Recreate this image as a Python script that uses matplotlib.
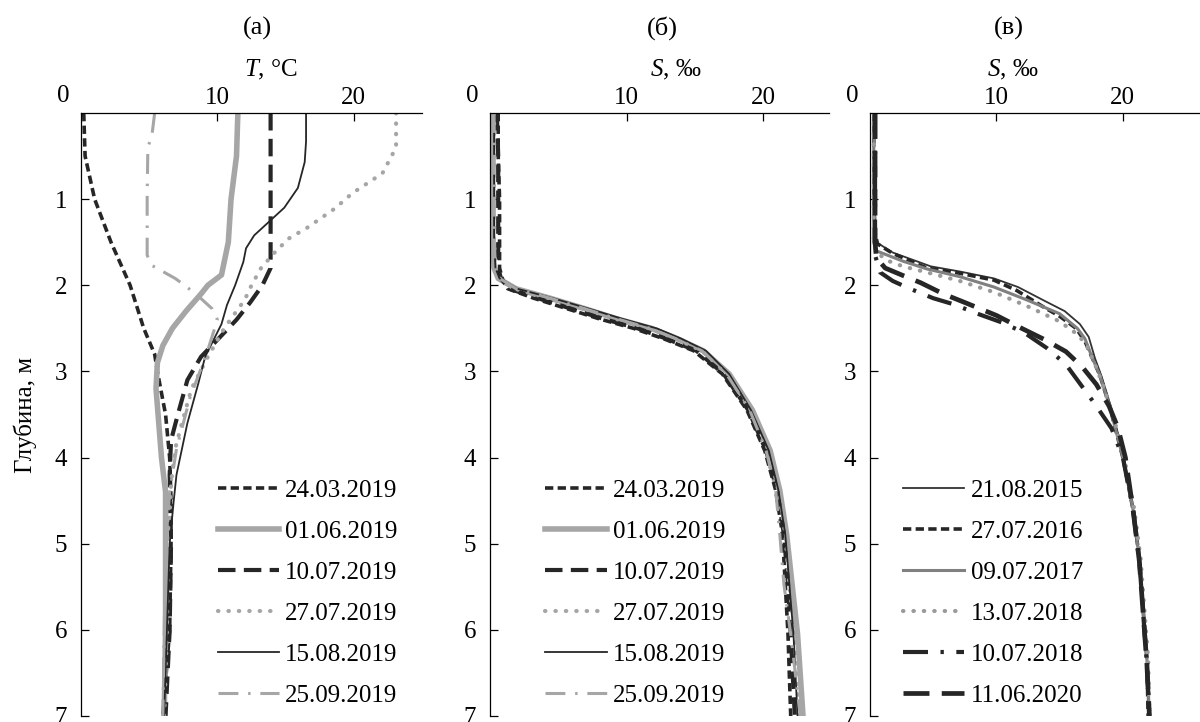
import matplotlib.pyplot as plt

plt.rcParams['font.family'] = ['Liberation Serif', 'DejaVu Serif']
plt.rcParams['mathtext.fontset'] = 'custom'
plt.rcParams['mathtext.it'] = 'Liberation Serif:italic'
plt.rcParams['mathtext.rm'] = 'Liberation Serif'

# (а) температура
a_labels = ['24.03.2019', '01.06.2019', '10.07.2019', '27.07.2019', '15.08.2019', '25.09.2019']
a_d1 = [0, 0.5, 1.0, 1.5, 2.0, 2.5, 2.8, 3.0, 3.5, 4.0, 4.5, 5.0, 6.0, 7.0]
a_t1 = [0.2, 0.3, 1.0, 2.2, 3.6, 4.6, 5.4, 5.6, 6.2, 6.5, 6.6, 6.6, 6.5, 6.0]
a_d2 = [0, 0.5, 1.0, 1.5, 1.88, 2.0, 2.1, 2.3, 2.5, 2.7, 2.9, 3.2, 3.6, 4.0, 4.4, 5.0, 6.0, 7.0]
a_t2 = [11.5, 11.4, 11.0, 10.8, 10.3, 9.3, 8.8, 7.7, 6.7, 6.0, 5.6, 5.5, 5.7, 5.9, 6.2, 6.2, 6.2, 6.1]
a_d3 = [0, 1.0, 1.8, 2.0, 2.2, 2.4, 2.6, 2.83, 3.1, 3.5, 3.8, 4.2, 5.0, 6.0, 7.0]
a_t3 = [13.9, 13.9, 13.9, 13.3, 12.4, 11.4, 10.2, 8.8, 7.8, 7.1, 6.6, 6.5, 6.6, 6.5, 6.2]
a_d4 = [0, 0.4, 0.7, 0.93, 1.11, 1.33, 1.46, 1.62, 1.8, 2.0, 2.17, 2.3, 2.5, 2.83, 3.2, 3.6, 3.9, 4.3, 5.0, 6.0, 7.0]
a_t4 = [23.1, 23.1, 22.1, 19.9, 18.6, 16.6, 15.2, 14.2, 13.2, 12.5, 12.0, 11.4, 10.5, 9.3, 8.1, 7.4, 6.9, 6.6, 6.4, 6.3, 6.1]
a_d5 = [0, 0.33, 0.57, 0.87, 1.1, 1.26, 1.42, 1.57, 1.73, 2.0, 2.23, 2.45, 2.83, 3.14, 3.6, 4.2, 4.5, 5.0, 6.0, 7.0]
a_t5 = [16.5, 16.5, 16.4, 15.9, 14.9, 13.8, 12.7, 12.1, 11.9, 11.3, 10.7, 10.3, 9.1, 8.6, 7.8, 7.0, 6.8, 6.5, 6.3, 6.1]
a_d6 = [0, 0.26, 0.4, 1.0, 1.65, 1.77, 1.92, 2.0, 2.14, 2.27, 2.4, 2.8, 3.3, 3.9, 4.4, 5.0, 6.0, 7.0]
a_t6 = [5.4, 5.2, 4.9, 4.85, 4.85, 5.2, 6.9, 7.6, 8.7, 9.6, 10.0, 9.2, 8.0, 7.0, 6.5, 6.2, 6.1, 6.0]

# (б) солёность 2019
b_depth = [0, 0.5, 1.0, 1.5, 1.8, 1.92, 2.04, 2.15, 2.27, 2.39, 2.5, 2.62, 2.76, 3.03, 3.45, 3.92, 4.38, 4.89, 5.47, 6.05, 7.0]
b_s1 = [0.6, 0.6, 0.7, 0.7, 0.7, 0.9, 1.3, 3.2, 5.6, 8.0, 10.5, 12.7, 14.9, 17.0, 18.8, 20.1, 20.9, 21.4, 21.6, 21.8, 22.0]
b_s2 = [0.2, 0.2, 0.2, 0.2, 0.3, 0.6, 1.9, 4.4, 6.9, 9.3, 11.8, 13.7, 15.6, 17.5, 19.2, 20.5, 21.2, 21.7, 22.1, 22.5, 22.9]
b_s3 = [0.5, 0.6, 0.6, 0.6, 0.6, 0.8, 1.4, 3.5, 5.9, 8.3, 10.8, 12.9, 15.1, 17.1, 18.9, 20.2, 21.0, 21.5, 21.8, 22.0, 22.3]
b_s4 = [0.3, 0.3, 0.3, 0.3, 0.4, 0.7, 1.8, 4.3, 6.8, 9.2, 11.7, 13.6, 15.5, 17.4, 19.1, 20.4, 21.1, 21.6, 21.9, 22.3, 22.6]
b_s5 = [0.3, 0.3, 0.3, 0.3, 0.4, 0.7, 2.0, 4.6, 7.2, 9.7, 12.2, 14.0, 15.8, 17.5, 19.1, 20.4, 21.1, 21.6, 21.9, 22.2, 22.5]
b_s6 = [0.3, 0.3, 0.3, 0.3, 0.4, 0.7, 1.9, 4.4, 6.9, 9.3, 11.7, 13.6, 15.5, 17.3, 19.0, 20.2, 20.9, 21.2, 21.5, 22.0, 22.7]

# (в) солёность по годам
c_labels = ['21.08.2015', '27.07.2016', '09.07.2017', '13.07.2018', '10.07.2018', '11.06.2020']
c_d1 = [0, 1.4, 1.5, 1.62, 1.7, 1.78, 1.84, 1.92, 2.02, 2.18, 2.3, 2.45, 2.6, 2.85, 3.05, 3.43, 4.0, 4.6, 5.17, 5.76, 6.34, 7.0]
c_s1 = [0.3, 0.3, 0.5, 1.8, 3.3, 4.8, 7.1, 9.8, 11.7, 13.8, 15.4, 16.6, 17.3, 17.8, 18.3, 19.1, 20.1, 20.8, 21.3, 21.6, 21.9, 22.0]
c_d2 = [0, 1.0, 1.4, 1.52, 1.63, 1.72, 1.8, 1.86, 1.94, 2.06, 2.25, 2.36, 2.5, 2.65, 2.85, 3.05, 3.43, 4.0, 4.6, 5.17, 5.76, 6.34, 7.0]
c_s2 = [0.3, 0.3, 0.4, 0.6, 1.8, 3.2, 4.5, 7.1, 9.8, 11.6, 13.7, 15.0, 16.3, 17.0, 17.6, 18.2, 19.0, 20.0, 20.8, 21.3, 21.6, 21.9, 22.0]
c_d3 = [0, 1.5, 1.6, 1.72, 1.81, 1.9, 2.02, 2.17, 2.33, 2.5, 2.62, 2.85, 3.05, 3.43, 4.0, 4.6, 5.17, 5.76, 6.34, 7.0]
c_s3 = [0.3, 0.3, 0.5, 2.6, 4.5, 7.1, 9.8, 12.4, 15.0, 16.4, 17.0, 17.6, 18.2, 19.0, 20.0, 20.8, 21.3, 21.6, 21.9, 22.1]
c_d4 = [0, 1.5, 1.62, 1.72, 1.78, 1.85, 1.95, 2.08, 2.24, 2.42, 2.58, 2.72, 2.92, 3.15, 3.5, 4.0, 4.6, 5.17, 5.76, 6.34, 7.0]
c_s4 = [0.3, 0.3, 0.5, 1.5, 2.6, 4.5, 7.1, 9.8, 12.4, 15.0, 16.5, 17.2, 17.8, 18.4, 19.2, 20.1, 20.9, 21.4, 21.7, 22.0, 22.1]
c_d5 = [0, 1.5, 1.65, 1.85, 1.95, 2.03, 2.15, 2.22, 2.33, 2.43, 2.55, 2.73, 2.92, 3.16, 3.38, 3.66, 4.0, 4.6, 5.2, 5.8, 6.4, 7.0]
c_s5 = [0.4, 0.4, 0.4, 0.8, 1.8, 3.0, 5.0, 6.6, 8.5, 10.4, 12.2, 14.0, 15.5, 16.7, 17.8, 19.1, 20.0, 20.8, 21.3, 21.6, 21.9, 22.1]
c_d6 = [0, 1.5, 1.68, 1.8, 1.88, 1.97, 2.1, 2.2, 2.35, 2.5, 2.63, 2.77, 2.95, 3.15, 3.4, 3.65, 4.0, 4.6, 5.2, 5.8, 6.4, 7.0]
c_s6 = [0.4, 0.4, 0.5, 1.2, 2.5, 4.0, 5.8, 7.5, 10.0, 12.0, 13.8, 15.5, 16.8, 17.9, 18.9, 19.6, 20.2, 20.8, 21.3, 21.6, 21.9, 22.1]

dark = '#262626'
light = '#a6a6a6'
mid = '#808080'

st_short = {'color': dark, 'linewidth': 2.6, 'linestyle': (0, (2.3, 1.2))}
st_thick = {'color': light, 'linewidth': 4.0, 'linestyle': '-'}
st_long = {'color': dark, 'linewidth': 3.0, 'linestyle': (0, (4.2, 2.0))}
st_dot = {'color': light, 'linewidth': 3.0, 'linestyle': (0, (0.1, 2.4)), 'dash_capstyle': 'round'}
st_thin = {'color': dark, 'linewidth': 1.3, 'linestyle': '-'}
st_dashdot = {'color': light, 'linewidth': 2.2, 'linestyle': (0, (6.5, 3.2, 0.8, 3.2))}

fig = plt.figure(figsize=(12, 7.22), dpi=100)
W, H = 1200, 722


def make_axes(left, right, xmax):
    ax = fig.add_axes([left / W, 1 - 716 / H, (right - left) / W, (716 - 113) / H])
    ax.set_xlim(0, xmax)
    ax.set_ylim(7, 0)
    ax.spines['right'].set_visible(False)
    ax.spines['bottom'].set_visible(False)
    for s in ['top', 'left']:
        ax.spines[s].set_linewidth(0.9)
    ax.xaxis.tick_top()
    ax.xaxis.set_label_position('top')
    ax.set_xticks([10, 20])
    ax.set_yticks([1, 2, 3, 4, 5, 6, 7])
    ax.tick_params(direction='in', length=6, width=0.9, labelsize=18)
    ax.tick_params(axis='y', pad=10)
    ax.tick_params(axis='x', pad=3)
    ax.annotate('0', xy=(0, 0), xycoords='data', xytext=(-13, 12), textcoords='offset points',
                ha='center', va='center', fontsize=18)
    return ax


ax_a = make_axes(81, 422, 25)
ax_b = make_axes(490, 829, 24.8)
ax_c = make_axes(870, 1200, 26.1)

ax_a.plot(a_t1, a_d1, label=a_labels[0], **st_short)
ax_a.plot(a_t2, a_d2, label=a_labels[1], **st_thick)
ax_a.plot(a_t3, a_d3, label=a_labels[2], **st_long)
ax_a.plot(a_t4, a_d4, label=a_labels[3], **st_dot)
ax_a.plot(a_t5, a_d5, label=a_labels[4], **st_thin)
ax_a.plot(a_t6, a_d6, label=a_labels[5], **st_dashdot)

ax_b.plot(b_s1, b_depth, label=a_labels[0], **st_short)
ax_b.plot(b_s2, b_depth, label=a_labels[1], **st_thick)
ax_b.plot(b_s3, b_depth, label=a_labels[2], **st_long)
ax_b.plot(b_s4, b_depth, label=a_labels[3], **st_dot)
ax_b.plot(b_s5, b_depth, label=a_labels[4], **st_thin)
ax_b.plot(b_s6, b_depth, label=a_labels[5], **st_dashdot)

ax_c.plot(c_s1, c_d1, label=c_labels[0], **{'color': '#333333', 'linewidth': 1.3})
ax_c.plot(c_s2, c_d2, label=c_labels[1], **st_short)
ax_c.plot(c_s3, c_d3, label=c_labels[2], **{'color': mid, 'linewidth': 2.2})
ax_c.plot(c_s4, c_d4, label=c_labels[3], **{'color': '#9a9a9a', 'linewidth': 3.0,
                                            'linestyle': (0, (0.1, 2.4)), 'dash_capstyle': 'round'})
ax_c.plot(c_s5, c_d5, label=c_labels[4], **{'color': dark, 'linewidth': 3.0,
                                            'linestyle': (0, (6.0, 3.0, 0.8, 3.0))})
ax_c.plot(c_s6, c_d6, label=c_labels[5], **{'color': dark, 'linewidth': 3.4,
                                            'linestyle': (0, (5.5, 2.6))})

leg_kw = {'loc': 'upper left', 'frameon': False, 'fontsize': 18, 'handlelength': 2.45,
          'handletextpad': 0.25, 'labelspacing': 0.74, 'borderpad': 0, 'borderaxespad': 0}
ax_a.legend(bbox_to_anchor=(0.401, 0.393), **leg_kw)
ax_b.legend(bbox_to_anchor=(0.163, 0.393), **leg_kw)
ax_c.legend(bbox_to_anchor=(0.10, 0.393), **leg_kw)

ax_a.set_xlabel(r'$T$, °C', fontsize=18)
ax_a.xaxis.set_label_coords(0.557, 1.061)
ax_b.set_xlabel(r'$S$, ‰', fontsize=18)
ax_b.xaxis.set_label_coords(0.549, 1.061)
ax_c.set_xlabel(r'$S$, ‰', fontsize=18)
ax_c.xaxis.set_label_coords(0.433, 1.061)

ax_a.set_ylabel('Глубина, м', fontsize=18)
ax_a.yaxis.set_label_coords(-0.13, 0.5)

fig.text(257 / W, 1 - 28 / H, '(а)', ha='center', va='center', fontsize=19)
fig.text(662 / W, 1 - 28 / H, '(б)', ha='center', va='center', fontsize=19)
fig.text(1009 / W, 1 - 28 / H, '(в)', ha='center', va='center', fontsize=19)

plt.savefig('out.png', dpi=100)
